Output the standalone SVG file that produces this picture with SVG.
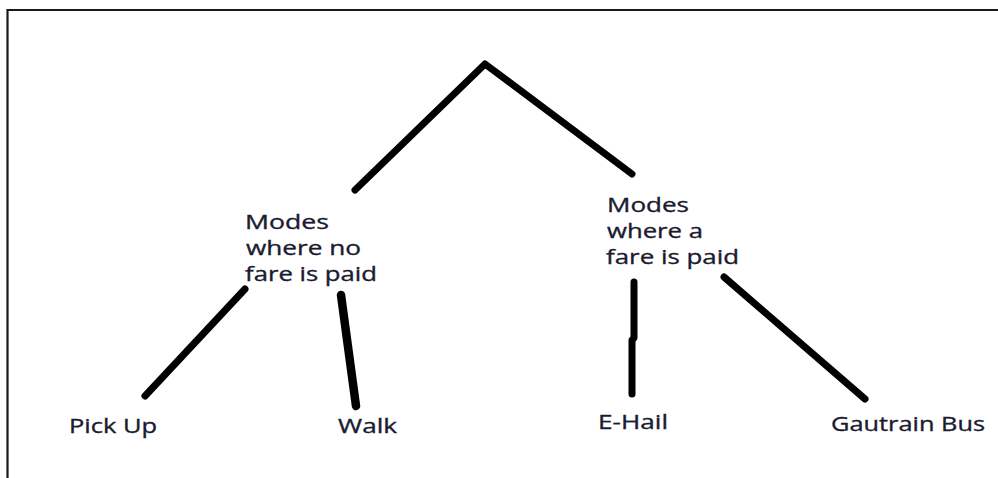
<svg xmlns="http://www.w3.org/2000/svg" width="998" height="478" viewBox="0 0 998 478">
  <style>
    .frame { stroke: #1a1a1a; stroke-width: 2.2; fill: none; }
    .link { stroke: #000; stroke-width: 7; stroke-linecap: round; stroke-linejoin: round; fill: none; }
    .label { font-family: "Open Sans", "Noto Sans", "Liberation Sans", sans-serif; font-size: 20px; fill: #1b1b30; stroke: #1b1b30; stroke-width: 0.35; }
  </style>
  <rect width="998" height="478" fill="#fff"/>

  <!-- partial frame: top and left edges -->
  <path class="frame" d="M7.5,478 V10 H998"/>

  <g id="connectors">
    <polyline class="link" points="355,190 485,64 632,174"/>
    <line class="link" x1="245" y1="289" x2="145" y2="396"/>
    <line class="link" x1="341" y1="295" x2="356" y2="406" style="stroke-width:8.5"/>
    <polyline class="link" points="634,282 634,338 632,340 632,394"/>
    <line class="link" x1="724" y1="277" x2="865" y2="399"/>
  </g>

  <g id="node-no-fare">
    <text class="label" x="245" y="229" textLength="84" lengthAdjust="spacingAndGlyphs">Modes</text>
    <text class="label" x="246" y="255" textLength="115" lengthAdjust="spacingAndGlyphs">where no</text>
    <text class="label" x="245" y="281" textLength="132" lengthAdjust="spacingAndGlyphs">fare is paid</text>
  </g>

  <g id="node-fare">
    <text class="label" x="607" y="212" textLength="82" lengthAdjust="spacingAndGlyphs">Modes</text>
    <text class="label" x="607" y="238" textLength="96" lengthAdjust="spacingAndGlyphs">where a</text>
    <text class="label" x="606" y="264" textLength="133" lengthAdjust="spacingAndGlyphs">fare is paid</text>
  </g>

  <g id="node-pick-up">
    <text class="label" x="69" y="433" textLength="88" lengthAdjust="spacingAndGlyphs">Pick Up</text>
  </g>

  <g id="node-walk">
    <text class="label" x="338" y="433" textLength="59" lengthAdjust="spacingAndGlyphs">Walk</text>
  </g>

  <g id="node-e-hail">
    <text class="label" x="598" y="429" textLength="70" lengthAdjust="spacingAndGlyphs">E-Hail</text>
  </g>

  <g id="node-gautrain-bus">
    <text class="label" x="831" y="431" textLength="154" lengthAdjust="spacingAndGlyphs">Gautrain Bus</text>
  </g>
</svg>
